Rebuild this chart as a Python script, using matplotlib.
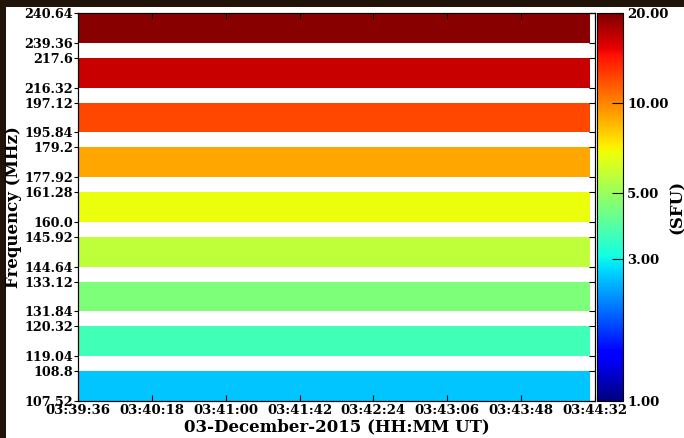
import numpy as np
import matplotlib
matplotlib.use("Agg")
import matplotlib.pyplot as plt
from matplotlib.colors import LogNorm
from matplotlib.patches import Rectangle
import matplotlib.cm as cm

plt.rcParams["font.family"] = "DejaVu Serif"
plt.rcParams["font.weight"] = "bold"
plt.rcParams["axes.labelweight"] = "bold"

# band edges (MHz), lowest band first
freq_low = [107.52, 119.04, 131.84, 144.64, 160.0, 177.92, 195.84, 216.32, 239.36]
freq_high = [108.8, 120.32, 133.12, 145.92, 161.28, 179.2, 197.12, 217.6, 240.64]
# mean flux per band (SFU)
flux = [2.6, 3.6, 4.5, 5.7, 6.7, 9.0, 12.2, 16.4, 19.5]

t_start = 0.0
t_stop = 293.0   # seconds after 03:39:36
t_span = 296.0
time_labels = ["03:39:36", "03:40:18", "03:41:00", "03:41:42",
               "03:42:24", "03:43:06", "03:43:48", "03:44:32"]

W, H = 684, 438
fig = plt.figure(figsize=(W / 100, H / 100), dpi=100)
fig.patch.set_facecolor("#1f1407")
fig.add_artist(Rectangle((6 / W, 0), 1 - 6 / W, 1 - 7 / H,
                         transform=fig.transFigure, facecolor="white",
                         edgecolor="none", zorder=-1))

ax = fig.add_axes([78 / W, 37 / H, 517 / W, 388 / H])
cax = fig.add_axes([597 / W, 37 / H, 26 / W, 388 / H])

norm = LogNorm(vmin=1, vmax=20)
cmap = plt.get_cmap("jet")

yticks = []
ylabels = []
for i, (lo, hi, f) in enumerate(zip(freq_low, freq_high, flux)):
    y0 = 3 * i
    ax.pcolormesh([t_start, t_stop], [y0, y0 + 2], np.array([[f]]),
                  cmap=cmap, norm=norm, shading="flat")
    yticks += [y0, y0 + 2]
    ylabels += [str(lo), str(hi)]

ax.set_xlim(0, t_span)
ax.set_ylim(0, 26)
ax.set_xticks(np.linspace(0, t_span, len(time_labels)))
ax.set_xticklabels(time_labels)
ax.set_yticks(yticks)
ax.set_yticklabels(ylabels)
ax.tick_params(axis="x", direction="in", top=True, length=4, labelsize=9.5, pad=2)
ax.tick_params(axis="y", direction="out", length=3, labelsize=9.2, pad=0.5)
for lab in ax.get_xticklabels() + ax.get_yticklabels():
    lab.set_fontweight("bold")
ax.set_xlabel("03-December-2015 (HH:MM UT)", fontsize=12, labelpad=1)
ax.set_ylabel("Frequency (MHz)", fontsize=12)
ax.yaxis.set_label_coords(-0.108, 0.5)

# inward ticks on the right spine
ax_r = ax.twinx()
ax_r.set_ylim(ax.get_ylim())
ax_r.set_yticks(yticks)
ax_r.tick_params(axis="y", direction="in", length=4, labelright=False)

sm = cm.ScalarMappable(norm=norm, cmap=cmap)
cbar = fig.colorbar(sm, cax=cax, ticks=[1, 3, 5, 10, 20], format="%.2f")
cax.minorticks_off()
cax.tick_params(direction="in", length=8, labelsize=9.5, pad=3)
for lab in cax.get_yticklabels():
    lab.set_fontweight("bold")
cbar.set_label("(SFU)", fontsize=12, labelpad=0)

fig.savefig("out.png", dpi=100, facecolor=fig.get_facecolor())
